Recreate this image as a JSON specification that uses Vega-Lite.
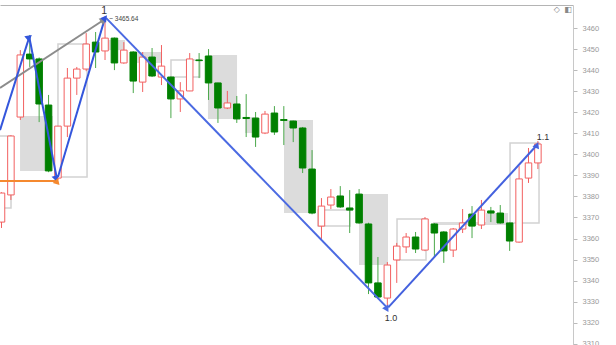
{
  "$schema": "https://vega.github.io/schema/vega-lite/v6.json",
  "width": 573,
  "height": 345,
  "autosize": {"type": "none"},
  "padding": {"left": 0, "top": 5, "right": 43, "bottom": 0},
  "background": "white",
  "config": {"view": {"stroke": null}, "font": "Liberation Sans", "axisY": {"labelOverlap": false, "labelSeparation": 0, "labelBound": false}},
  "datasets": {
    "candles": [
      {"i": 0, "open": 3367.8, "high": 3382.0, "low": 3365.0, "close": 3381.6},
      {"i": 1, "open": 3380.7, "high": 3409.0, "low": 3378.3, "close": 3408.7},
      {"i": 2, "open": 3417.7, "high": 3449.5, "low": 3416.3, "close": 3447.2},
      {"i": 3, "open": 3447.6, "high": 3456.7, "low": 3441.5, "close": 3445.3},
      {"i": 4, "open": 3445.3, "high": 3446.0, "low": 3415.3, "close": 3423.9},
      {"i": 5, "open": 3423.4, "high": 3428.2, "low": 3391.5, "close": 3392.1},
      {"i": 6, "open": 3388.7, "high": 3413.4, "low": 3387.8, "close": 3413.4},
      {"i": 7, "open": 3413.4, "high": 3441.0, "low": 3408.2, "close": 3436.2},
      {"i": 8, "open": 3436.2, "high": 3441.5, "low": 3428.2, "close": 3440.5},
      {"i": 9, "open": 3440.5, "high": 3457.6, "low": 3439.5, "close": 3452.4},
      {"i": 10, "open": 3453.3, "high": 3458.1, "low": 3441.0, "close": 3448.6},
      {"i": 11, "open": 3449.1, "high": 3465.64, "low": 3444.8, "close": 3455.2},
      {"i": 12, "open": 3455.2, "high": 3455.5, "low": 3440.0, "close": 3443.4},
      {"i": 13, "open": 3443.4, "high": 3453.3, "low": 3443.0, "close": 3449.5},
      {"i": 14, "open": 3448.6, "high": 3449.0, "low": 3429.1, "close": 3434.8},
      {"i": 15, "open": 3434.3, "high": 3448.6, "low": 3429.6, "close": 3446.2},
      {"i": 16, "open": 3446.2, "high": 3450.5, "low": 3436.7, "close": 3437.2},
      {"i": 17, "open": 3436.7, "high": 3451.9, "low": 3432.9, "close": 3441.9},
      {"i": 18, "open": 3436.7, "high": 3437.0, "low": 3417.2, "close": 3426.3},
      {"i": 19, "open": 3426.3, "high": 3434.3, "low": 3420.1, "close": 3430.1},
      {"i": 20, "open": 3430.1, "high": 3448.1, "low": 3430.0, "close": 3445.3},
      {"i": 21, "open": 3444.8, "high": 3448.1, "low": 3436.2, "close": 3444.5},
      {"i": 22, "open": 3446.7, "high": 3450.0, "low": 3425.8, "close": 3433.9},
      {"i": 23, "open": 3433.9, "high": 3434.0, "low": 3414.9, "close": 3422.0},
      {"i": 24, "open": 3422.0, "high": 3430.1, "low": 3421.5, "close": 3424.4},
      {"i": 25, "open": 3423.9, "high": 3427.7, "low": 3414.9, "close": 3416.8},
      {"i": 26, "open": 3417.5, "high": 3428.6, "low": 3408.2, "close": 3417.0},
      {"i": 27, "open": 3417.2, "high": 3420.1, "low": 3403.5, "close": 3408.2},
      {"i": 28, "open": 3410.1, "high": 3420.6, "low": 3409.6, "close": 3419.1},
      {"i": 29, "open": 3419.6, "high": 3422.9, "low": 3409.2, "close": 3410.6},
      {"i": 30, "open": 3416.5, "high": 3422.9, "low": 3404.4, "close": 3416.1},
      {"i": 31, "open": 3415.8, "high": 3416.0, "low": 3405.8, "close": 3412.5},
      {"i": 32, "open": 3412.5, "high": 3413.0, "low": 3391.1, "close": 3393.5},
      {"i": 33, "open": 3393.0, "high": 3402.0, "low": 3371.5, "close": 3372.1},
      {"i": 34, "open": 3365.9, "high": 3379.2, "low": 3359.8, "close": 3375.4},
      {"i": 35, "open": 3375.9, "high": 3383.5, "low": 3374.0, "close": 3379.7},
      {"i": 36, "open": 3380.2, "high": 3384.9, "low": 3374.5, "close": 3375.0},
      {"i": 37, "open": 3374.5, "high": 3383.0, "low": 3362.6, "close": 3373.5},
      {"i": 38, "open": 3381.1, "high": 3383.5, "low": 3367.0, "close": 3367.4},
      {"i": 39, "open": 3366.9, "high": 3367.5, "low": 3333.6, "close": 3338.9},
      {"i": 40, "open": 3338.9, "high": 3351.2, "low": 3331.5, "close": 3332.2},
      {"i": 41, "open": 3331.7, "high": 3348.8, "low": 3326.5, "close": 3347.4},
      {"i": 42, "open": 3349.8, "high": 3357.9, "low": 3338.9, "close": 3356.4},
      {"i": 43, "open": 3356.0, "high": 3362.6, "low": 3353.1, "close": 3360.7},
      {"i": 44, "open": 3360.7, "high": 3363.1, "low": 3353.1, "close": 3355.0},
      {"i": 45, "open": 3354.5, "high": 3370.2, "low": 3354.0, "close": 3369.3},
      {"i": 46, "open": 3366.9, "high": 3367.3, "low": 3351.2, "close": 3362.6},
      {"i": 47, "open": 3363.1, "high": 3363.5, "low": 3348.4, "close": 3354.1},
      {"i": 48, "open": 3354.5, "high": 3365.0, "low": 3351.2, "close": 3364.5},
      {"i": 49, "open": 3364.5, "high": 3374.0, "low": 3362.6, "close": 3367.4},
      {"i": 50, "open": 3371.6, "high": 3375.4, "low": 3360.2, "close": 3365.9},
      {"i": 51, "open": 3366.4, "high": 3378.3, "low": 3364.5, "close": 3373.5},
      {"i": 52, "open": 3373.1, "high": 3375.0, "low": 3367.8, "close": 3372.1},
      {"i": 53, "open": 3372.1, "high": 3375.9, "low": 3367.0, "close": 3367.4},
      {"i": 54, "open": 3367.4, "high": 3367.6, "low": 3354.1, "close": 3358.8},
      {"i": 55, "open": 3358.3, "high": 3394.4, "low": 3358.0, "close": 3388.3},
      {"i": 56, "open": 3388.7, "high": 3403.0, "low": 3386.4, "close": 3395.9},
      {"i": 57, "open": 3395.9, "high": 3406.3, "low": 3393.0, "close": 3404.9}
    ],
    "boxes": [
      {"x1": -0.69, "x2": 1.01, "y1": 3408.7, "y2": 3374.5, "kind": "outline"},
      {"x1": 1.97, "x2": 5.47, "y1": 3418.2, "y2": 3392.1, "kind": "fill"},
      {"x1": 6.0, "x2": 9.09, "y1": 3452.4, "y2": 3389.2, "kind": "outline"},
      {"x1": 11.21, "x2": 13.12, "y1": 3454.3, "y2": 3449.5, "kind": "fill"},
      {"x1": 13.97, "x2": 17.06, "y1": 3448.6, "y2": 3443.4, "kind": "fill"},
      {"x1": 18.01, "x2": 21.09, "y1": 3444.8, "y2": 3436.7, "kind": "outline"},
      {"x1": 21.94, "x2": 25.03, "y1": 3447.2, "y2": 3416.8, "kind": "fill"},
      {"x1": 25.88, "x2": 27.26, "y1": 3417.7, "y2": 3410.1, "kind": "fill"},
      {"x1": 30.02, "x2": 33.1, "y1": 3416.3, "y2": 3372.1, "kind": "fill"},
      {"x1": 33.64, "x2": 37.04, "y1": 3373.5, "y2": 3365.9, "kind": "outline"},
      {"x1": 37.99, "x2": 41.07, "y1": 3381.1, "y2": 3347.4, "kind": "fill"},
      {"x1": 42.03, "x2": 45.11, "y1": 3369.3, "y2": 3349.8, "kind": "outline"},
      {"x1": 45.86, "x2": 51.49, "y1": 3367.8, "y2": 3366.4, "kind": "fill"},
      {"x1": 51.49, "x2": 53.83, "y1": 3372.1, "y2": 3366.4, "kind": "fill"},
      {"x1": 54.04, "x2": 57.12, "y1": 3405.4, "y2": 3367.4, "kind": "outline"}
    ],
    "arrows": [
      {"id": "grey", "x1": -0.16, "y1": 3431.5, "x2": 10.85, "y2": 3463.8},
      {"id": "b1", "x1": -0.16, "y1": 3411.5, "x2": 2.95, "y2": 3455.7},
      {"id": "b2", "x1": 2.95, "y1": 3455.7, "x2": 5.85, "y2": 3389.2},
      {"id": "b3", "x1": 6.0, "y1": 3389.2, "x2": 11.0, "y2": 3464.8},
      {"id": "t4", "x1": 11.1, "y1": 3464.8, "x2": 40.95, "y2": 3327.3},
      {"id": "t5", "x1": 41.1, "y1": 3327.3, "x2": 56.9, "y2": 3404.4},
      {"id": "orange", "x1": -0.16, "y1": 3387.3, "x2": 5.9, "y2": 3387.3}
    ],
    "labels": [
      {"i": 10.9, "price": 3468.1, "text": "1", "kind": "big"},
      {"i": 41.4, "price": 3322.2, "text": "1.0", "kind": "mid"},
      {"i": 57.55, "price": 3408.2, "text": "1.1", "kind": "mid"},
      {"i": 11.45, "price": 3464.3, "text": "~ 3465.64", "kind": "small"},
      {"i": 59.0, "price": 3468.6, "text": "◇", "kind": "icon"},
      {"i": 60.2, "price": 3468.6, "text": "◧", "kind": "icon"}
    ]
  },
  "layer": [
    {
      "data": {"name": "boxes"},
      "transform": [{"filter": "datum.kind === 'fill'"}],
      "mark": {"type": "rect", "fill": "#dcdcdc", "clip": true},
      "encoding": {
        "x": {"field": "x1", "type": "quantitative", "title": null,
              "scale": {"domain": [-0.16, 60.73], "nice": false, "zero": false, "padding": 0},
              "axis": {"orient": "top", "labels": false, "ticks": false, "grid": false, "domainColor": "#b4b4b4", "title": null}},
        "x2": {"field": "x2"},
        "y": {"field": "y1", "type": "quantitative", "title": null,
              "scale": {"domain": [3307.03, 3470.93], "nice": false, "zero": false, "padding": 0},
              "axis": {"orient": "right", "values": [3310, 3320, 3330, 3340, 3350, 3360, 3370, 3380, 3390, 3400, 3410, 3420, 3430, 3440, 3450, 3460],
                       "tickCount": 40,
                       "format": "d", "labelOverlap": false, "labelSeparation": 0, "labelBound": false,
                       "grid": false, "domainColor": "#c8c8c8", "tickColor": "#bbbbbb", "tickSize": 4,
                       "labelColor": "#999999", "labelFontSize": 7.5, "labelPadding": 5, "labelFont": "Liberation Sans", "title": null}},
        "y2": {"field": "y2"}
      }
    },
    {
      "data": {"name": "boxes"},
      "transform": [{"filter": "datum.kind === 'outline'"}],
      "mark": {"type": "rect", "filled": false, "stroke": "#d2d2d2", "strokeWidth": 1.5, "clip": true},
      "encoding": {
        "x": {"field": "x1", "type": "quantitative", "title": null},
        "x2": {"field": "x2"},
        "y": {"field": "y1", "type": "quantitative", "title": null},
        "y2": {"field": "y2"}
      }
    },
    {
      "data": {"name": "candles"},
      "mark": {"type": "rule", "strokeWidth": 1, "clip": true},
      "encoding": {
        "x": {"field": "i", "type": "quantitative", "title": null},
        "y": {"field": "low", "type": "quantitative", "title": null},
        "y2": {"field": "high"},
        "color": {"condition": {"test": "datum.close > datum.open", "value": "#f26060"}, "value": "#4aa84a"}
      }
    },
    {
      "data": {"name": "candles"},
      "mark": {"type": "bar", "size": 6.5, "strokeWidth": 1, "clip": true},
      "encoding": {
        "x": {"field": "i", "type": "quantitative", "title": null},
        "y": {"field": "open", "type": "quantitative", "title": null},
        "y2": {"field": "close"},
        "fill": {"condition": {"test": "datum.close > datum.open", "value": "#ffffff"}, "value": "#008000"},
        "stroke": {"condition": {"test": "datum.close > datum.open", "value": "#f26060"}, "value": "#008000"}
      }
    },
    {
      "data": {"name": "arrows"},
      "mark": {"type": "rule", "clip": true},
      "encoding": {
        "x": {"field": "x1", "type": "quantitative", "title": null},
        "y": {"field": "y1", "type": "quantitative", "title": null},
        "x2": {"field": "x2"},
        "y2": {"field": "y2"},
        "color": {"field": "id", "type": "nominal", "legend": null,
                  "scale": {"domain": ["grey", "b1", "b2", "b3", "t4", "t5", "orange"],
                            "range": ["#8c8c8c", "#3456dc", "#3456dc", "#3456dc", "#4b6ae2", "#4461de", "#f5892f"]}},
        "strokeWidth": {"field": "id", "type": "nominal", "legend": null,
                        "scale": {"domain": ["grey", "b1", "b2", "b3", "t4", "t5", "orange"],
                                  "range": [2, 2, 2, 2, 1.4, 1.6, 2.5]}}
      }
    },
    {
      "data": {"name": "arrows"},
      "mark": {"type": "point", "shape": "triangle-up", "filled": true, "opacity": 1, "clip": true},
      "encoding": {
        "x": {"field": "x2", "type": "quantitative", "title": null},
        "y": {"field": "y2", "type": "quantitative", "title": null},
        "color": {"field": "id", "type": "nominal", "legend": null},
        "angle": {"field": "id", "type": "nominal", "legend": null,
                  "scale": {"domain": ["grey", "b1", "b2", "b3", "t4", "t5", "orange"],
                            "range": [57, 17, 169, 16, 136, 42, 90]}},
        "size": {"field": "id", "type": "nominal", "legend": null,
                 "scale": {"domain": ["grey", "b1", "b2", "b3", "t4", "t5", "orange"],
                           "range": [60, 50, 50, 50, 40, 40, 50]}}
      }
    },
    {
      "data": {"name": "labels"},
      "transform": [{"filter": "datum.kind === 'big'"}],
      "mark": {"type": "text", "fontSize": 10.5, "color": "#333333", "align": "center", "baseline": "middle", "font": "Liberation Sans"},
      "encoding": {
        "x": {"field": "i", "type": "quantitative", "title": null},
        "y": {"field": "price", "type": "quantitative", "title": null},
        "text": {"field": "text"}
      }
    },
    {
      "data": {"name": "labels"},
      "transform": [{"filter": "datum.kind === 'mid'"}],
      "mark": {"type": "text", "fontSize": 9, "color": "#333333", "align": "center", "baseline": "middle", "font": "Liberation Sans"},
      "encoding": {
        "x": {"field": "i", "type": "quantitative", "title": null},
        "y": {"field": "price", "type": "quantitative", "title": null},
        "text": {"field": "text"}
      }
    },
    {
      "data": {"name": "labels"},
      "transform": [{"filter": "datum.kind === 'small'"}],
      "mark": {"type": "text", "fontSize": 6.5, "color": "#444444", "align": "left", "baseline": "middle", "font": "Liberation Sans"},
      "encoding": {
        "x": {"field": "i", "type": "quantitative", "title": null},
        "y": {"field": "price", "type": "quantitative", "title": null},
        "text": {"field": "text"}
      }
    },
    {
      "data": {"name": "labels"},
      "transform": [{"filter": "datum.kind === 'icon'"}],
      "mark": {"type": "text", "fontSize": 8, "color": "#888888", "align": "center", "baseline": "middle", "font": "DejaVu Sans"},
      "encoding": {
        "x": {"field": "i", "type": "quantitative", "title": null},
        "y": {"field": "price", "type": "quantitative", "title": null},
        "text": {"field": "text"}
      }
    }
  ]
}
